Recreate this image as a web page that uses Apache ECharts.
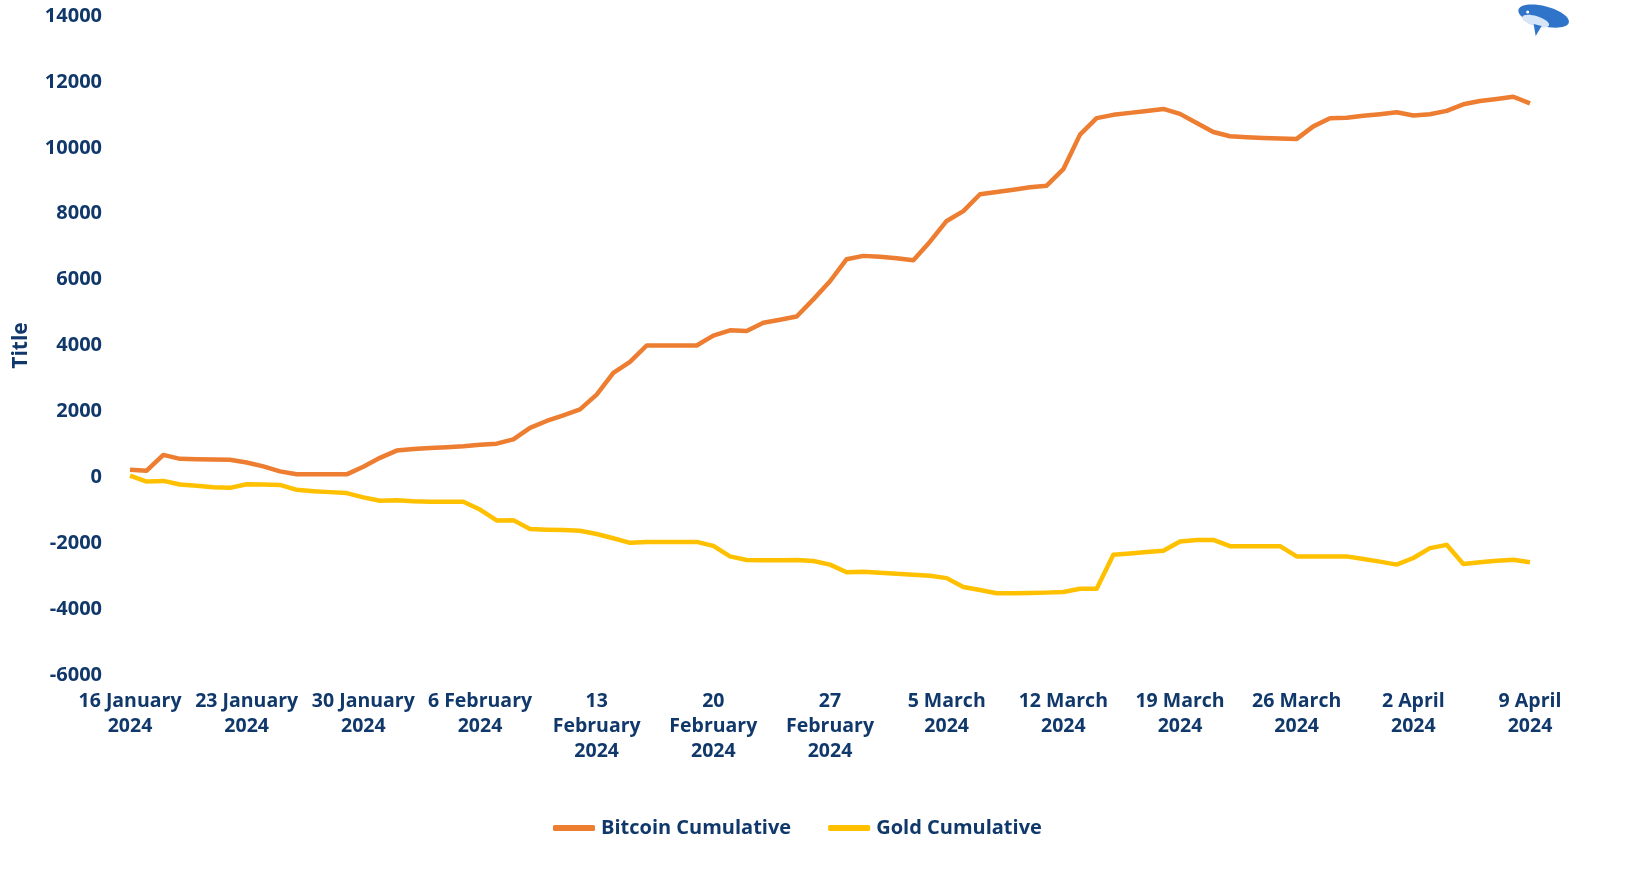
<!DOCTYPE html>
<html>
<head>
<meta charset="utf-8">
<script src="https://cdn.jsdelivr.net/npm/echarts@6/dist/echarts.min.js"></script>
<style>
html,body{margin:0;padding:0;background:#fff;}
#chart{width:1632px;height:874px;}
</style>
</head>
<body>
<div id="chart"></div>
<script>
const categories = [
'16 January 2024','17 January 2024','18 January 2024','19 January 2024','20 January 2024','21 January 2024','22 January 2024',
'23 January 2024','24 January 2024','25 January 2024','26 January 2024','27 January 2024','28 January 2024','29 January 2024',
'30 January 2024','31 January 2024','1 February 2024','2 February 2024','3 February 2024','4 February 2024','5 February 2024',
'6 February 2024','7 February 2024','8 February 2024','9 February 2024','10 February 2024','11 February 2024','12 February 2024',
'13 February 2024','14 February 2024','15 February 2024','16 February 2024','17 February 2024','18 February 2024','19 February 2024',
'20 February 2024','21 February 2024','22 February 2024','23 February 2024','24 February 2024','25 February 2024','26 February 2024',
'27 February 2024','28 February 2024','29 February 2024','1 March 2024','2 March 2024','3 March 2024','4 March 2024',
'5 March 2024','6 March 2024','7 March 2024','8 March 2024','9 March 2024','10 March 2024','11 March 2024',
'12 March 2024','13 March 2024','14 March 2024','15 March 2024','16 March 2024','17 March 2024','18 March 2024',
'19 March 2024','20 March 2024','21 March 2024','22 March 2024','23 March 2024','24 March 2024','25 March 2024',
'26 March 2024','27 March 2024','28 March 2024','29 March 2024','30 March 2024','31 March 2024','1 April 2024',
'2 April 2024','3 April 2024','4 April 2024','5 April 2024','6 April 2024','7 April 2024','8 April 2024',
'9 April 2024'
];

const bitcoinCumulative = [
230,200,680,560,550,540,530,
450,330,180,90,90,90,90,
320,590,810,860,890,910,940,
990,1020,1150,1500,1710,1880,2060,
2510,3170,3500,4000,4000,4000,4000,
4300,4460,4440,4690,4780,4880,5400,
5950,6620,6720,6690,6650,6590,7150,
7780,8080,8590,8660,8730,8800,8850,
9350,10400,10900,11000,11060,11120,11180,
11030,10750,10480,10350,10320,10300,10280,
10270,10650,10900,10910,10970,11020,11080,
10980,11020,11120,11320,11420,11480,11550,
11350
];

const goldCumulative = [
50,-130,-110,-220,-260,-300,-320,
-210,-220,-230,-380,-420,-450,-480,
-610,-710,-700,-730,-740,-740,-740,
-980,-1310,-1300,-1570,-1590,-1600,-1620,
-1720,-1850,-1990,-1960,-1960,-1960,-1960,
-2080,-2400,-2510,-2520,-2520,-2510,-2540,
-2650,-2880,-2870,-2900,-2930,-2960,-2990,
-3060,-3330,-3420,-3520,-3520,-3510,-3500,
-3480,-3380,-3380,-2350,-2310,-2270,-2230,
-1950,-1900,-1900,-2090,-2090,-2090,-2090,
-2400,-2400,-2400,-2400,-2480,-2560,-2650,
-2450,-2150,-2050,-2630,-2580,-2530,-2500,
-2580
];

const yTicks = { min: -6000, max: 14000, interval: 2000 };
const seriesNames = ['Bitcoin Cumulative', 'Gold Cumulative'];
const yAxisTitle = 'Title';

const navy = '#10386a';
const fontFamily = '"Open Sans", Lato, sans-serif';

function wrapLabel(v) {
  const parts = v.split(' ');
  const day = parts[0], month = parts[1], year = parts[2];
  const first = day + ' ' + month;
  if (first.length > 10) return day + '\n' + month + '\n' + year;
  return first + '\n' + year;
}

const chart = echarts.init(document.getElementById('chart'));
chart.setOption({
  backgroundColor: '#ffffff',
  animation: false,
  grid: { left: 130, right: 102, top: 16, bottom: 199, containLabel: false },
  graphic: [
    {
      type: 'group', left: 1516, top: 0, silent: true,
      children: [
        { type: 'ellipse', shape: { cx: 30, cy: 14, rx: 26, ry: 10 }, rotation: -0.25, originX: 30, originY: 14,
          style: { fill: '#2f74c8' } },
        { type: 'ellipse', shape: { cx: 22, cy: 19, rx: 14, ry: 5 }, rotation: -0.3, originX: 22, originY: 19,
          style: { fill: '#d6e5f7' } },
        { type: 'polygon', shape: { points: [[20, 22], [28, 24], [22, 34]] }, style: { fill: '#2f74c8' } },
        { type: 'circle', shape: { cx: 14, cy: 10, r: 1.5 }, style: { fill: '#ffffff' } }
      ]
    }
  ],
  legend: {
    data: seriesNames,
    bottom: 31,
    left: 548,
    icon: 'roundRect',
    itemWidth: 42,
    itemHeight: 6,
    itemGap: 37,
    textStyle: { color: navy, fontSize: 20, fontWeight: 'bold', fontFamily: fontFamily, padding: [0, 0, 0, 1] }
  },
  xAxis: {
    type: 'category',
    data: categories,
    boundaryGap: false,
    axisLine: { show: false },
    axisTick: { show: false },
    splitLine: { show: false },
    axisLabel: {
      interval: function (i) { return i % 7 === 0; },
      formatter: wrapLabel,
      color: navy,
      fontSize: 19.5,
      fontWeight: 'bold',
      fontFamily: fontFamily,
      lineHeight: 25,
      margin: 14
    }
  },
  yAxis: {
    type: 'value',
    min: yTicks.min,
    max: yTicks.max,
    interval: yTicks.interval,
    name: yAxisTitle,
    nameLocation: 'middle',
    nameGap: 98,
    nameTextStyle: { color: navy, fontSize: 21, fontWeight: 'bold', fontFamily: fontFamily },
    axisLine: { show: false },
    axisTick: { show: false },
    splitLine: { show: false },
    axisLabel: {
      formatter: function (v) { return String(v); },
      color: navy, fontSize: 20, fontWeight: 'bold', fontFamily: fontFamily, margin: 28
    }
  },
  series: [
    {
      name: seriesNames[0],
      type: 'line',
      data: bitcoinCumulative,
      showSymbol: false,
      symbol: 'none',
      lineStyle: { color: '#ED7D31', width: 4.5, join: 'round' },
      itemStyle: { color: '#ED7D31' }
    },
    {
      name: seriesNames[1],
      type: 'line',
      data: goldCumulative,
      showSymbol: false,
      symbol: 'none',
      lineStyle: { color: '#FFC000', width: 4.5, join: 'round' },
      itemStyle: { color: '#FFC000' }
    }
  ]
});
</script>
</body>
</html>
